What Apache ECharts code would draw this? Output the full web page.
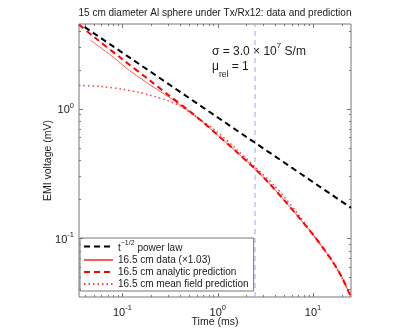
<!DOCTYPE html>
<html>
<head>
<meta charset="utf-8">
<script src="https://cdn.jsdelivr.net/npm/echarts@6/dist/echarts.min.js"></script>
<style>
  html, body { margin: 0; padding: 0; background: #fff; }
  #chart { width: 415px; height: 335px; }
</style>
</head>
<body>
<div id="chart"></div>
<script>

// axis ranges (ms, mV)
var X_MIN = 0.035, X_MAX = 25;
var Y_MIN = 0.035, Y_MAX = 4.5;

// tick values
var xMajor = [0.1, 1, 10];
var xMinor = [0.04, 0.05, 0.06, 0.07, 0.08, 0.09, 0.2, 0.3, 0.4, 0.5, 0.6, 0.7, 0.8, 0.9,
	2, 3, 4, 5, 6, 7, 8, 9, 20];
var yMajor = [0.1, 1];
var yMinor = [0.04, 0.05, 0.06, 0.07, 0.08, 0.09, 0.2, 0.3, 0.4, 0.5, 0.6, 0.7, 0.8, 0.9, 2, 3, 4];

// t^-1/2 power law
var tPower = [0.04, 1, 25];
var vPower = [4.27, 0.853, 0.171];

// 16.5 cm data (x1.03)
var tData = [0.046, 0.06, 0.09, 0.11, 0.15, 0.21, 0.3, 0.4, 0.5, 0.7, 1, 1.5, 2.5, 3.5, 5, 7, 10, 13, 16, 20, 25];
var vData = [3.38, 2.93, 2.33, 2.05, 1.74, 1.47, 1.24, 1.07, 0.955, 0.785, 0.622, 0.478, 0.338, 0.262, 0.195, 0.146, 0.106, 0.082, 0.066, 0.050, 0.035];

// 16.5 cm analytic prediction
var tAnalytic = [0.035, 0.05, 0.1, 0.2, 0.3, 0.5, 0.7, 1, 1.5, 2.5, 3.5, 5, 7, 10, 13, 16, 20, 25];
var vAnalytic = [4.45, 3.59, 2.40, 1.62, 1.28, 0.96, 0.785, 0.622, 0.478, 0.338, 0.262, 0.195, 0.146, 0.106, 0.082, 0.066, 0.050, 0.035];

// 16.5 cm mean field prediction
var tMean = [0.035, 0.06, 0.1, 0.15, 0.2, 0.3, 0.4, 0.6, 1, 1.5, 2.5, 4, 7, 12, 18, 25];
var vMean = [1.51, 1.48, 1.41, 1.33, 1.26, 1.15, 1.05, 0.86, 0.655, 0.5, 0.35, 0.25, 0.152, 0.088, 0.057, 0.035];

// time marker (dashed vertical line)
var tMarker = 2.46;

var FONT = '"Liberation Sans", Arial, sans-serif';
var TEXT = '#1a1a1a';
var AXIS = '#777';
var MARK = '#9aa6f2';

function pairs(t, v) {
	return t.map(function (x, i) { return [x, v[i]]; });
}

function logLabel(v) {
	var l = Math.log10(v);
	var e = Math.round(l);
	if (Math.abs(l - e) > 1e-6) return '';
	return '{b|10}{s|' + e + '}';
}

var labelRich = {
	b: { fontSize: 11, lineHeight: 14, fontFamily: FONT, color: TEXT, verticalAlign: 'bottom' },
	s: { fontSize: 7.5, lineHeight: 8, fontFamily: FONT, color: TEXT, verticalAlign: 'top' }
};

function tickSeries(values, len, isX) {
	return {
		type: 'custom',
		silent: true,
		z: 10,
		data: values.map(function (v) { return isX ? [v, Y_MIN, len] : [X_MIN, v, len]; }),
		encode: { x: 0, y: 1 },
		renderItem: function (params, api) {
			var l = api.value(2);
			var st = { stroke: AXIS, lineWidth: 1 };
			if (isX) {
				var v = api.value(0);
				var b = api.coord([v, Y_MIN]), t = api.coord([v, Y_MAX]);
				var x = Math.round(b[0]) + 0.5;
				return { type: 'group', children: [
					{ type: 'line', shape: { x1: x, y1: b[1], x2: x, y2: b[1] - l }, style: st },
					{ type: 'line', shape: { x1: x, y1: t[1], x2: x, y2: t[1] + l }, style: st }
				]};
			}
			var w = api.value(1);
			var p = api.coord([X_MIN, w]), q = api.coord([X_MAX, w]);
			var y = Math.round(p[1]) + 0.5;
			return { type: 'group', children: [
				{ type: 'line', shape: { x1: p[0], y1: y, x2: p[0] + l, y2: y }, style: st },
				{ type: 'line', shape: { x1: q[0], y1: y, x2: q[0] - l, y2: y }, style: st }
			]};
		}
	};
}

var chart = echarts.init(document.getElementById('chart'));

var option = {
	animation: false,
	backgroundColor: '#fff',
	title: {
		text: '15 cm diameter Al sphere under Tx/Rx12: data and prediction',
		left: 215,
		top: 8,
		padding: 0,
		textAlign: 'center',
		textStyle: { fontFamily: FONT, fontSize: 10, fontWeight: 'normal', color: TEXT }
	},
	grid: {
		left: 79, right: 64, top: 24, bottom: 38,
		show: true, borderColor: AXIS, borderWidth: 1, backgroundColor: 'transparent'
	},
	legend: {
		orient: 'vertical',
		left: 80,
		top: 238,
		padding: [2, 5, 2, 3],
		itemGap: 2,
		itemWidth: 29,
		itemHeight: 12,
		borderColor: AXIS,
		borderWidth: 1,
		backgroundColor: '#fff',
		itemStyle: { color: 'transparent', borderWidth: 0, opacity: 0 },
		data: ['t^-1/2 power law', '16.5 cm data (\u00d71.03)', '16.5 cm analytic prediction', '16.5 cm mean field prediction'],
		formatter: function (name) {
			if (name === 't^-1/2 power law') return '{a|t}{s|\u22121/2}{a| power law}';
			return name;
		},
		textStyle: {
			fontFamily: FONT, fontSize: 10, color: TEXT,
			rich: {
				a: { fontFamily: FONT, fontSize: 10, color: TEXT, lineHeight: 13, verticalAlign: 'bottom' },
				s: { fontFamily: FONT, fontSize: 7, color: TEXT, lineHeight: 8, verticalAlign: 'top' }
			}
		}
	},
	xAxis: {
		type: 'log',
		logBase: 10,
		min: X_MIN,
		max: X_MAX,
		name: 'Time (ms)',
		nameLocation: 'middle',
		nameGap: 20,
		nameMoveOverlap: false,
		nameTextStyle: { fontFamily: FONT, fontSize: 10.5, color: TEXT },
		axisLine: { show: false },
		axisTick: { show: false },
		splitLine: { show: false },
		axisLabel: { formatter: logLabel, rich: labelRich, margin: 7, showMinLabel: false, showMaxLabel: false }
	},
	yAxis: {
		type: 'log',
		logBase: 10,
		min: Y_MIN,
		max: Y_MAX,
		name: 'EMI voltage (mV)',
		nameLocation: 'middle',
		nameGap: 25,
		nameMoveOverlap: false,
		nameTextStyle: { fontFamily: FONT, fontSize: 10.5, color: TEXT },
		axisLine: { show: false },
		axisTick: { show: false },
		splitLine: { show: false },
		axisLabel: { formatter: logLabel, rich: labelRich, margin: 5, showMinLabel: false, showMaxLabel: false }
	},
	graphic: [
		{
			type: 'text',
			left: 212,
			top: 42,
			style: {
				text: '{a|\u03c3 = 3.0 \u00d7 10}{s|7}{a| S/m}',
				rich: {
					a: { fontFamily: FONT, fontSize: 12, fill: TEXT, lineHeight: 16, verticalAlign: 'bottom' },
					s: { fontFamily: FONT, fontSize: 8, fill: TEXT, lineHeight: 9, verticalAlign: 'top' }
				}
			}
		},
		{
			type: 'text',
			left: 212,
			top: 61,
			style: {
				text: '{a|\u03bc}{b|rel}{a| = 1}',
				rich: {
					a: { fontFamily: FONT, fontSize: 12, fill: TEXT, lineHeight: 16, verticalAlign: 'top' },
					b: { fontFamily: FONT, fontSize: 8.5, fill: TEXT, lineHeight: 10, verticalAlign: 'bottom', padding: [0, 0, -2, 0] }
				}
			}
		}
	],
	series: [
		{
			name: 'marker',
			type: 'line',
			data: [[tMarker, Y_MIN], [tMarker, Y_MAX]],
			symbol: 'none',
			silent: true,
			lineStyle: { color: MARK, width: 1, type: [5, 4] },
			z: 2
		},
		{
			name: 't^-1/2 power law',
			type: 'line',
			data: pairs(tPower, vPower),
			symbol: 'none',
			lineStyle: { color: '#000', width: 2, type: [6, 4] },
			itemStyle: { color: '#000' },
			z: 3
		},
		{
			name: '16.5 cm data (\u00d71.03)',
			type: 'line',
			data: pairs(tData, vData),
			symbol: 'none',
			smooth: 0.3,
			lineStyle: { color: '#ff5a5a', width: 1 },
			itemStyle: { color: '#ff5a5a' },
			z: 4
		},
		{
			name: '16.5 cm analytic prediction',
			type: 'line',
			data: pairs(tAnalytic, vAnalytic),
			symbol: 'none',
			smooth: 0.3,
			lineStyle: { color: '#ff0000', width: 2, type: [6, 4] },
			itemStyle: { color: '#ff0000' },
			z: 5
		},
		{
			name: '16.5 cm mean field prediction',
			type: 'line',
			data: pairs(tMean, vMean),
			symbol: 'none',
			smooth: 0.3,
			lineStyle: { color: '#ff3a3a', width: 1.5, type: [1.5, 3] },
			itemStyle: { color: '#ff3a3a' },
			z: 4
		},
		tickSeries(xMajor, 4, true),
		tickSeries(xMinor, 2, true),
		tickSeries(yMajor, 4, false),
		tickSeries(yMinor, 2, false)
	]
};

chart.setOption(option);

</script>
</body>
</html>
